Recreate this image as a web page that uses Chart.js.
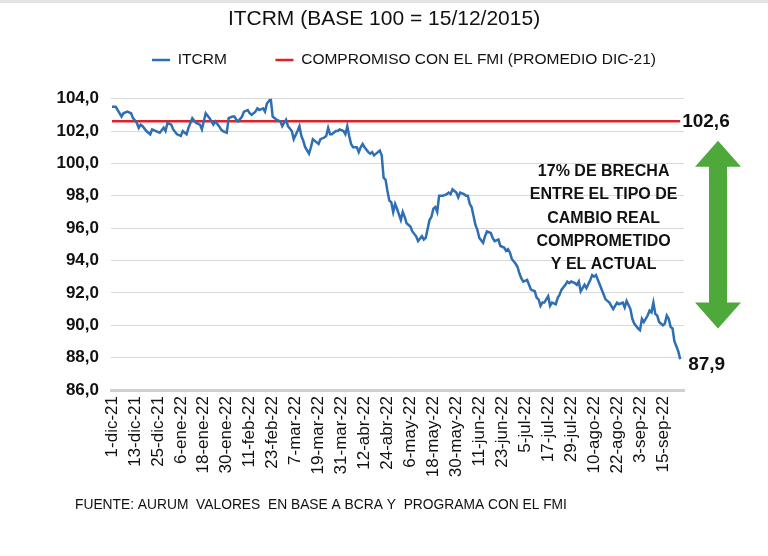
<!DOCTYPE html>
<html>
<head>
<meta charset="utf-8">
<script src="https://cdn.jsdelivr.net/npm/chart.js@4.4.1/dist/chart.umd.min.js"></script>
<style>
  html, body { margin: 0; padding: 0; background: #fff; }
  #chart { display: block; }
</style>
</head>
<body>
<canvas id="chart" width="768" height="556"></canvas>
<script>
// dias desde el 1-dic-21 y valor del ITCRM
const itcrmDays = [
  0, 2, 3, 5, 6, 8, 10, 11, 13, 14, 15, 16, 18, 20, 21, 23, 25, 27, 28, 29,
  31, 32, 34, 36, 37, 39, 40, 42, 44, 46, 47, 49, 51, 53, 54, 56, 57, 58, 60, 61,
  63, 64, 65, 66, 68, 69, 71, 72, 73, 75, 76, 77, 79, 80, 81, 83, 84, 86, 88, 89,
  91, 92, 94, 95, 97, 98, 99, 100, 101, 103, 104, 105, 107, 108, 109, 111, 112, 113, 114, 115,
  117, 118, 119, 121, 122, 123, 124, 125, 126, 128, 129, 130, 131, 132, 134, 135, 136, 137, 139, 140,
  141, 142, 143, 144, 145, 146, 147, 148, 149, 151, 152, 153, 154, 156, 157, 159, 160, 162, 163, 164,
  166, 167, 168, 169, 170, 171, 173, 175, 176, 177, 178, 180, 181, 182, 184, 185, 186, 187, 188, 190,
  191, 192, 194, 195, 196, 198, 199, 200, 202, 203, 205, 206, 207, 208, 209, 211, 212, 213, 214, 215,
  217, 218, 219, 221, 222, 223, 224, 225, 226, 227, 228, 229, 230, 232, 233, 234, 235, 237, 238, 239,
  240, 242, 243, 244, 245, 247, 248, 250, 251, 252, 253, 254, 255, 257, 258, 260, 262, 263, 264, 265,
  267, 268, 269, 271, 272, 273, 275, 276, 277, 278, 280, 281, 282, 283, 284, 285, 286, 288, 289, 290,
  291, 292, 293, 294, 295, 296, 297
];
const itcrmValues = [
  103.5, 103.5, 103.3, 102.9, 103.1, 103.2, 103.1, 102.8, 102.5, 102.2, 102.4, 102.3, 102.0, 101.8, 102.1, 102.0, 101.9, 102.2, 102.0, 102.5,
  102.4, 102.1, 101.8, 101.7, 102.0, 101.8, 102.2, 102.8, 102.5, 102.4, 102.1, 103.1, 102.8, 102.4, 102.6, 102.3, 102.1, 102.0, 101.9, 102.8,
  102.9, 102.9, 102.7, 102.6, 102.9, 103.2, 103.3, 103.1, 103.0, 103.2, 103.4, 103.3, 103.4, 103.2, 103.7, 104.0, 102.9, 102.7, 102.6, 102.3,
  102.7, 102.3, 102.0, 101.5, 102.0, 102.3, 101.7, 101.4, 101.0, 100.6, 101.0, 101.5, 101.3, 101.2, 101.5, 101.6, 101.7, 102.2, 101.8, 101.8,
  102.0, 102.0, 102.1, 102.0, 101.8, 102.3, 101.7, 101.2, 101.0, 101.0, 100.7, 101.0, 101.2, 101.0, 100.7, 100.6, 100.7, 100.5, 100.7, 100.8,
  100.5, 99.1, 99.0, 98.3, 97.7, 97.6, 97.0, 97.5, 97.2, 96.5, 97.0, 96.7, 96.3, 96.1, 95.8, 95.5, 95.2, 95.5, 95.3, 95.4,
  96.5, 96.7, 97.2, 97.3, 97.0, 98.0, 98.0, 98.1, 98.2, 98.1, 98.4, 98.2, 97.9, 98.2, 98.1, 98.0, 98.0, 97.5, 97.3, 96.2,
  95.9, 95.4, 95.1, 95.5, 95.8, 95.7, 95.4, 95.2, 95.3, 94.9, 94.8, 94.6, 94.7, 94.5, 94.1, 93.8, 93.6, 93.2, 92.9, 92.7,
  92.8, 92.5, 92.2, 92.1, 91.7, 91.6, 91.2, 91.4, 91.4, 91.6, 91.8, 91.2, 91.4, 91.3, 91.7, 91.9, 92.2, 92.5, 92.7, 92.6,
  92.7, 92.6, 92.5, 92.7, 92.1, 92.5, 92.3, 92.8, 93.1, 93.0, 93.1, 92.8, 92.5, 91.9, 91.6, 91.4, 91.0, 91.2, 91.4, 91.3,
  91.4, 91.1, 91.5, 91.0, 90.4, 90.1, 89.8, 89.7, 90.4, 90.2, 90.6, 90.9, 90.8, 91.4, 90.7, 90.6, 90.2, 90.0, 90.1, 90.6,
  90.4, 89.9, 89.8, 89.0, 88.7, 88.4, 87.9
];

// compromiso con el FMI (promedio dic-21)
const fmiDays = [0, 297];
const fmiValue = 102.6;

const tickDays = [0, 12, 24, 36, 48, 60, 72, 84, 96, 108, 120, 132, 144, 156, 168, 180, 192, 204, 216, 228, 240, 252, 264, 276, 288];
const tickLabels = ['1-dic-21', '13-dic-21', '25-dic-21', '6-ene-22', '18-ene-22', '30-ene-22', '11-feb-22', '23-feb-22',
  '7-mar-22', '19-mar-22', '31-mar-22', '12-abr-22', '24-abr-22', '6-may-22', '18-may-22', '30-may-22', '11-jun-22',
  '23-jun-22', '5-jul-22', '17-jul-22', '29-jul-22', '10-ago-22', '22-ago-22', '3-sep-22', '15-sep-22'];

const brechaLines = ['17% DE BRECHA', 'ENTRE EL TIPO DE', 'CAMBIO REAL', 'COMPROMETIDO', 'Y EL ACTUAL'];
const fuente = 'FUENTE: AURUM  VALORES  EN BASE A BCRA Y  PROGRAMA CON EL FMI';

const SANS = '"Liberation Sans", Arial, sans-serif';
const fmt = v => v.toFixed(1).replace('.', ',');

let extras = {
  id: 'extras',
  afterLayout(chart) {
    // titulo centrado en la imagen, leyenda un poco mas arriba y a la derecha
    let tb = chart.titleBlock;
    tb.left += 17; tb.right += 17;
    let lg = chart.legend;
    lg.top -= 21; lg.bottom -= 21;
    lg.left += 37; lg.right += 37;
  },
  afterDraw(chart) {
    const ctx = chart.ctx;
    const x = chart.scales.x, y = chart.scales.y;
    const last = itcrmDays.length - 1;
    ctx.save();

    // borde gris arriba
    ctx.fillStyle = '#e4e4e4';
    ctx.fillRect(0, 0, chart.width, 3);

    // valores de los extremos
    ctx.fillStyle = '#111';
    ctx.font = 'bold 19px ' + SANS;
    ctx.textBaseline = 'middle';
    ctx.textAlign = 'left';
    ctx.fillText(fmt(fmiValue), x.getPixelForValue(fmiDays[1]) + 2, y.getPixelForValue(fmiValue));
    ctx.fillText(fmt(itcrmValues[last]), x.getPixelForValue(itcrmDays[last]) + 8, y.getPixelForValue(itcrmValues[last]) + 6);

    // flecha doble verde
    const cx = chart.chartArea.right + 34;
    const top = y.getPixelForValue(101.4), bot = y.getPixelForValue(89.8);
    const head = 26, hw = 23, sw = 9;
    ctx.fillStyle = '#4ea83a';
    ctx.beginPath();
    ctx.moveTo(cx, top);
    ctx.lineTo(cx + hw, top + head);
    ctx.lineTo(cx + sw, top + head);
    ctx.lineTo(cx + sw, bot - head);
    ctx.lineTo(cx + hw, bot - head);
    ctx.lineTo(cx, bot);
    ctx.lineTo(cx - hw, bot - head);
    ctx.lineTo(cx - sw, bot - head);
    ctx.lineTo(cx - sw, top + head);
    ctx.lineTo(cx - hw, top + head);
    ctx.closePath();
    ctx.fill();

    // texto de la brecha
    ctx.fillStyle = '#111';
    ctx.font = 'bold 16px ' + SANS;
    ctx.textAlign = 'center';
    const tx = x.getPixelForValue(257);
    const ty = y.getPixelForValue(99.5);
    brechaLines.forEach((t, i) => ctx.fillText(t, tx, ty + i * 23.3));

    // fuente
    ctx.font = '13.8px ' + SANS;
    ctx.textAlign = 'left';
    ctx.fillText(fuente, 75, 505);
    ctx.restore();
  }
};

new Chart(document.getElementById('chart'), {
  type: 'line',
  data: {
    datasets: [
      {
        label: 'ITCRM',
        data: itcrmDays.map((d, i) => ({ x: d, y: itcrmValues[i] })),
        borderColor: '#2e6fb4',
        backgroundColor: '#2e6fb4',
        borderWidth: 2.5,
        pointRadius: 0,
        tension: 0
      },
      {
        label: 'COMPROMISO CON EL FMI (PROMEDIO DIC-21)',
        data: fmiDays.map(d => ({ x: d, y: fmiValue })),
        borderColor: '#d8252b',
        backgroundColor: '#d8252b',
        borderWidth: 2.5,
        pointRadius: 0
      }
    ]
  },
  options: {
    responsive: false,
    animation: false,
    devicePixelRatio: 1,
    layout: { padding: { left: 50, right: 84, top: 0, bottom: 66 } },
    plugins: {
      title: {
        display: true,
        text: 'ITCRM (BASE 100 = 15/12/2015)',
        color: '#111',
        font: { family: SANS, size: 21, weight: 'normal' },
        padding: { top: 7, bottom: 1 }
      },
      legend: {
        labels: {
          color: '#111',
          font: { family: SANS, size: 15.5 },
          usePointStyle: true,
          pointStyle: 'line',
          pointStyleWidth: 18,
          padding: 40,
          generateLabels(chart) {
            let items = Chart.defaults.plugins.legend.labels.generateLabels(chart);
            items[0].text = items[0].text + '  ';
            return items;
          }
        }
      },
      tooltip: { enabled: false }
    },
    scales: {
      x: {
        type: 'linear',
        min: -0.5,
        max: 299,
        afterBuildTicks(scale) { scale.ticks = tickDays.map(v => ({ value: v })); },
        afterFit(scale) { scale.height = 100; },
        ticks: {
          autoSkip: false,
          minRotation: 90,
          maxRotation: 90,
          padding: 6,
          color: '#111',
          font: { family: SANS, size: 17 },
          callback: v => tickLabels[tickDays.indexOf(v)]
        },
        grid: { display: false, drawTicks: false },
        border: { display: true, color: '#d0d0d0', width: 3 }
      },
      y: {
        min: 86,
        max: 104,
        afterFit(scale) { scale.width = 61; },
        ticks: {
          stepSize: 2,
          padding: 12,
          color: '#111',
          font: { family: SANS, size: 17, weight: 'bold' },
          callback: v => fmt(v)
        },
        grid: { color: '#d9d9d9', lineWidth: 1, drawTicks: false },
        border: { display: false }
      }
    }
  },
  plugins: [extras]
});
</script>
</body>
</html>
